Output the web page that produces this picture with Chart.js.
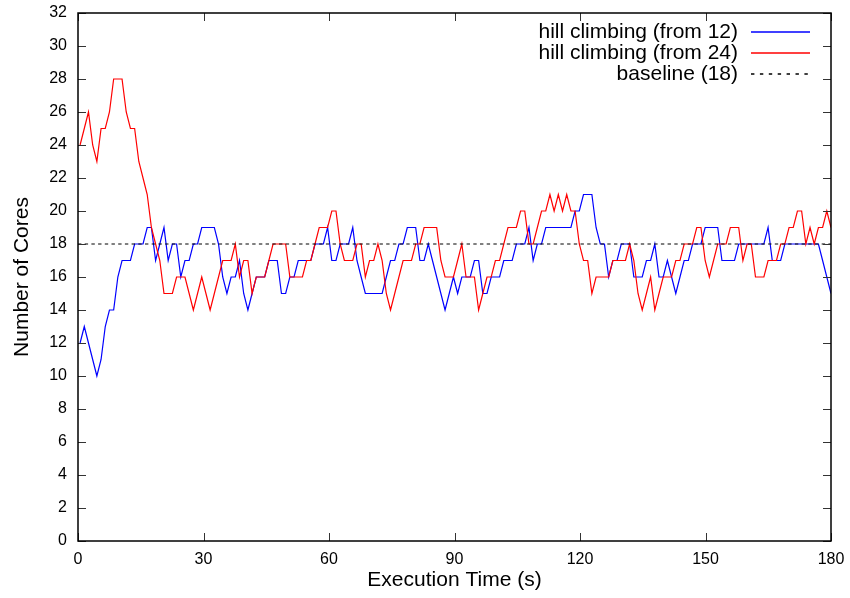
<!DOCTYPE html>
<html>
<head>
<meta charset="utf-8">
<script src="https://cdn.jsdelivr.net/npm/chart.js@4.4.1/dist/chart.umd.min.js"></script>
<style>
  html, body { margin: 0; padding: 0; background: #fff; }
  #wrap { width: 850px; height: 598px; }
</style>
</head>
<body>
<div id="wrap"><canvas id="chart" width="850" height="598"></canvas></div>
<script>
// Number of cores chosen each second by the two hill-climbing runs
const fromTwelve = [
  12, 13, 12, 11, 10, 11, 13, 14, 14, 16,
  17, 17, 17, 18, 18, 18, 19, 19, 17, 18,
  19, 17, 18, 18, 16, 17, 17, 18, 18, 19,
  19, 19, 19, 18, 16, 15, 16, 16, 17, 15,
  14, 15, 16, 16, 16, 17, 17, 17, 15, 15,
  16, 16, 17, 17, 17, 17, 18, 18, 18, 19,
  17, 17, 18, 18, 18, 19, 17, 16, 15, 15,
  15, 15, 15, 16, 17, 17, 18, 18, 19, 19,
  19, 17, 17, 18, 17, 16, 15, 14, 15, 16,
  15, 16, 16, 16, 17, 17, 15, 15, 16, 16,
  16, 17, 17, 17, 18, 18, 18, 19, 17, 18,
  18, 19, 19, 19, 19, 19, 19, 19, 20, 20,
  21, 21, 21, 19, 18, 18, 16, 17, 17, 18,
  18, 18, 16, 16, 16, 17, 17, 18, 16, 16,
  17, 16, 15, 16, 17, 17, 18, 18, 18, 19,
  19, 19, 19, 17, 17, 17, 17, 18, 18, 18,
  18, 18, 18, 18, 19, 17, 17, 17, 18, 18,
  18, 18, 18, 18, 18, 18, 18, 17, 16, 15
];
const fromTwentyFour = [
  24, 25, 26, 24, 23, 25, 25, 26, 28, 28,
  28, 26, 25, 25, 23, 22, 21, 19, 18, 17,
  15, 15, 15, 16, 16, 16, 15, 14, 15, 16,
  15, 14, 15, 16, 17, 17, 17, 18, 16, 17,
  17, 15, 16, 16, 16, 17, 18, 18, 18, 18,
  16, 16, 16, 16, 17, 17, 18, 19, 19, 19,
  20, 20, 18, 17, 17, 17, 18, 18, 16, 17,
  17, 18, 17, 15, 14, 15, 16, 17, 17, 17,
  18, 18, 19, 19, 19, 19, 17, 16, 16, 16,
  17, 18, 16, 16, 16, 14, 15, 16, 16, 17,
  17, 18, 19, 19, 19, 20, 20, 18, 18, 19,
  20, 20, 21, 20, 21, 20, 21, 20, 20, 18,
  17, 17, 15, 16, 16, 16, 16, 17, 17, 17,
  17, 18, 17, 15, 14, 15, 16, 14, 15, 16,
  16, 16, 17, 17, 18, 18, 18, 19, 19, 17,
  16, 17, 18, 18, 18, 19, 19, 19, 17, 18,
  18, 16, 16, 16, 17, 17, 17, 18, 18, 19,
  19, 20, 20, 18, 19, 18, 19, 19, 20, 19
];
const baselineCores = 18;
const xTickValues = [0, 30, 60, 90, 120, 150, 180];
const yTickValues = [0, 2, 4, 6, 8, 10, 12, 14, 16, 18, 20, 22, 24, 26, 28, 30, 32];

// samples run from 0.5 s to the end of the 180 s window
const firstSample = 0.5;
const lastSample = 180;

const FONT = "'Liberation Sans', Arial, sans-serif";

function toPoints(values) {
  const step = (lastSample - firstSample) / (values.length - 1);
  return values.map((v, i) => ({ x: firstSample + i * step, y: v }));
}

// gnuplot-style frame with inward ticks on all four sides
const framePlugin = {
  id: 'frame',
  afterDatasetsDraw(chart) {
    const { ctx, chartArea: a, scales: { x, y } } = chart;
    ctx.save();
    ctx.strokeStyle = '#333';
    ctx.lineWidth = 1;
    ctx.beginPath();
    x.ticks.forEach(t => {
      const px = Math.round(x.getPixelForValue(t.value)) + 0.5;
      ctx.moveTo(px, a.bottom); ctx.lineTo(px, a.bottom - 8);
      ctx.moveTo(px, a.top); ctx.lineTo(px, a.top + 8);
    });
    y.ticks.forEach(t => {
      const py = Math.round(y.getPixelForValue(t.value)) + 0.5;
      ctx.moveTo(a.left, py); ctx.lineTo(a.left + 8, py);
      ctx.moveTo(a.right, py); ctx.lineTo(a.right - 8, py);
    });
    ctx.stroke();
    ctx.strokeStyle = '#000';
    ctx.lineWidth = 1.5;
    ctx.strokeRect(a.left, a.top, a.width, a.height);
    ctx.restore();
  },
  afterDraw(chart) {
    // key in the top right corner: text, then line sample
    const { ctx, chartArea: a } = chart;
    chart.data.datasets.forEach((ds, i) => {
      const yy = Math.round(a.top + 18.5 + i * 21.3);
      ctx.save();
      ctx.font = '21px ' + FONT;
      ctx.fillStyle = '#000';
      ctx.textAlign = 'right';
      ctx.textBaseline = 'middle';
      ctx.fillText(ds.label, a.right - 93, yy);
      ctx.beginPath();
      ctx.strokeStyle = ds.borderColor;
      ctx.lineWidth = 1.5;
      ctx.setLineDash(ds.borderDash ? [3.4, 5.5] : []);
      ctx.moveTo(a.right - 80, yy);
      ctx.lineTo(a.right - 21, yy);
      ctx.stroke();
      ctx.restore();
    });
  }
};

new Chart(document.getElementById('chart'), {
  type: 'line',
  data: {
    datasets: [
      {
        label: 'hill climbing (from 12)',
        data: toPoints(fromTwelve),
        borderColor: '#0000ff',
        borderWidth: 1.2,
        order: 3
      },
      {
        label: 'hill climbing (from 24)',
        data: toPoints(fromTwentyFour),
        borderColor: '#ff0000',
        borderWidth: 1.2,
        order: 2
      },
      {
        label: 'baseline (' + baselineCores + ')',
        data: [{ x: 0, y: baselineCores }, { x: 180, y: baselineCores }],
        borderColor: '#000',
        borderWidth: 1,
        borderDash: [3.4, 3.3],
        order: 1
      }
    ]
  },
  options: {
    responsive: false,
    animation: false,
    elements: { point: { radius: 0 }, line: { tension: 0 } },
    layout: { padding: { top: 13, right: 19, left: 0, bottom: 0 } },
    plugins: { legend: { display: false }, tooltip: { enabled: false } },
    scales: {
      x: {
        type: 'linear',
        min: 0,
        max: 180,
        afterBuildTicks: s => { s.ticks = xTickValues.map(v => ({ value: v })); },
        afterFit: s => { s.height = 57; s.paddingLeft = 0; s.paddingRight = 0; },
        grid: { display: false, drawTicks: false },
        border: { display: false },
        ticks: { padding: 9, color: '#000', maxRotation: 0, autoSkip: false, font: { family: FONT, size: 16 } },
        title: {
          display: true,
          text: 'Execution Time (s)',
          color: '#000',
          font: { family: FONT, size: 21 },
          padding: { top: 0, bottom: 5 }
        }
      },
      y: {
        min: 0,
        max: 32,
        afterBuildTicks: s => { s.ticks = yTickValues.map(v => ({ value: v })); },
        afterFit: s => { s.width = 78; s.paddingTop = 0; s.paddingBottom = 0; },
        grid: { display: false, drawTicks: false },
        border: { display: false },
        ticks: { padding: 11, color: '#000', autoSkip: false, font: { family: FONT, size: 16 } },
        title: {
          display: true,
          text: 'Number of Cores',
          color: '#000',
          font: { family: FONT, size: 21 },
          padding: { top: 10, bottom: 0 }
        }
      }
    }
  },
  plugins: [framePlugin]
});
</script>
</body>
</html>
